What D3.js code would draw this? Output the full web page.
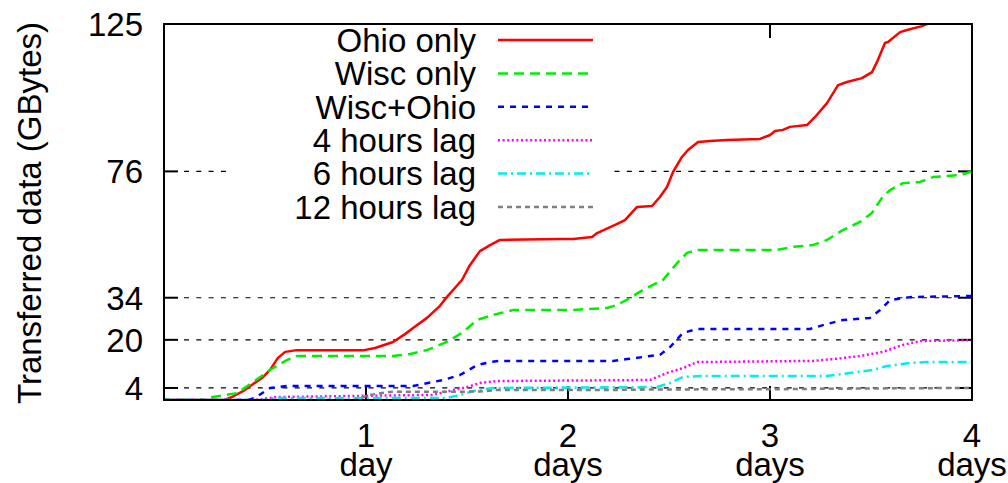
<!DOCTYPE html>
<html>
<head>
<meta charset="utf-8">
<script src="https://cdn.jsdelivr.net/npm/d3@7"></script>
<style>
  html, body { margin: 0; padding: 0; background: #fff; }
  svg { display: block; font-family: "Liberation Sans", Arial, Helvetica, sans-serif; }
</style>
</head>
<body>
<svg id="chart" width="1008" height="483"></svg>
<script>
// Cumulative transferred data (GBytes) over elapsed time (days)
const seriesNames = ["Ohio only", "Wisc only", "Wisc+Ohio", "4 hours lag", "6 hours lag", "12 hours lag"];

const ohioOnly = [
  [0, 0], [0.30, 0], [0.337, 1.0], [0.40, 3.3], [0.45, 5.7], [0.485, 7.3], [0.525, 10.0],
  [0.564, 14.0], [0.60, 16.0], [0.65, 16.5], [0.985, 16.5], [1.045, 17.3], [1.134, 19.3],
  [1.193, 21.9], [1.233, 23.9], [1.302, 27.3], [1.366, 31.3], [1.40, 34.2], [1.475, 39.9],
  [1.515, 44.9], [1.564, 49.5], [1.614, 51.5], [1.663, 53.2], [1.96, 53.5], [2.025, 53.5],
  [2.119, 54.2], [2.144, 55.5], [2.233, 58.2], [2.282, 59.8], [2.342, 64.2], [2.416, 64.5],
  [2.455, 67.5], [2.49, 70.8], [2.52, 75.8], [2.564, 80.8], [2.594, 83.1], [2.644, 85.8],
  [2.703, 86.1], [2.787, 86.4], [2.95, 86.8], [3.0, 88.1], [3.025, 89.4], [3.064, 89.8],
  [3.099, 90.8], [3.183, 91.4], [3.223, 94.1], [3.282, 98.7], [3.337, 104.7], [3.381, 105.7],
  [3.455, 107.0], [3.505, 109.0], [3.53, 112.4], [3.569, 118.7], [3.584, 119.0], [3.644, 122.3],
  [3.678, 123.0], [3.752, 124.3], [3.80, 125.6], [4.0, 128.5]
];

const wiscOnly = [
  [0, 0], [0.203, 0], [0.213, 0.7], [0.361, 2.3], [0.436, 5.7], [0.525, 10.0], [0.609, 13.3],
  [0.658, 14.6], [1.134, 14.6], [1.218, 15.3], [1.302, 16.6], [1.40, 19.3], [1.475, 22.3],
  [1.55, 26.6], [1.629, 28.3], [1.728, 29.9], [2.01, 29.9], [2.193, 30.6], [2.243, 31.6],
  [2.307, 33.9], [2.371, 36.6], [2.47, 39.9], [2.54, 45.5], [2.589, 48.9], [2.639, 49.9],
  [3.035, 49.9], [3.114, 50.9], [3.213, 51.5], [3.282, 53.2], [3.361, 56.5], [3.446, 59.2],
  [3.505, 62.2], [3.554, 67.2], [3.594, 69.8], [3.658, 72.1], [3.743, 72.5], [3.807, 74.1],
  [3.94, 74.8], [4.0, 76.0]
];

const wiscOhio = [
  [0, 0], [0.416, 0], [0.45, 0.7], [0.525, 4.0], [0.609, 4.65], [1.233, 4.65], [1.381, 6.65],
  [1.465, 8.3], [1.55, 11.6], [1.614, 12.6], [1.663, 13.0], [2.223, 13.0], [2.292, 13.6],
  [2.406, 14.6], [2.455, 15.0], [2.505, 17.6], [2.569, 22.3], [2.639, 23.6], [3.198, 23.6],
  [3.262, 24.9], [3.361, 26.6], [3.495, 27.3], [3.545, 29.9], [3.594, 33.2], [3.693, 34.2],
  [4.0, 34.6]
];

const lag4h = [
  [0, 0], [0.45, 0], [0.559, 1.0], [1.332, 1.7], [1.431, 3.3], [1.50, 4.3], [1.564, 5.65],
  [1.649, 6.3], [2.406, 6.65], [2.49, 9.0], [2.569, 10.6], [2.639, 12.6], [3.213, 13.0],
  [3.312, 13.6], [3.446, 14.6], [3.559, 16.0], [3.658, 18.3], [3.743, 19.6], [4.0, 19.9]
];

const lag6h = [
  [0, 0], [0.50, 0], [0.55, 0.7], [1.40, 0.7], [1.465, 1.7], [1.55, 3.3], [1.629, 4.0],
  [2.44, 4.3], [2.505, 5.65], [2.569, 7.6], [2.653, 8.0], [3.282, 8.0], [3.51, 10.0],
  [3.579, 11.3], [3.693, 12.3], [3.777, 12.6], [4.0, 12.6]
];

const lag12h = [
  [0, 0], [0.946, 0], [1.02, 1.7], [1.119, 2.7], [1.564, 2.8], [1.639, 3.3], [2.158, 3.3],
  [2.455, 3.5], [3.05, 3.6], [3.644, 3.9], [4.0, 4.0]
];

const xTicks = [1, 2, 3, 4];
const xTickLines = [["1", "day"], ["2", "days"], ["3", "days"], ["4", "days"]];
const yTicks = [4, 20, 34, 76, 125];
const yTitle = "Transferred data (GBytes)";

const seriesData = [ohioOnly, wiscOnly, wiscOhio, lag4h, lag6h, lag12h];
const seriesStyle = [
  { color: "#ff0000", dash: null },
  { color: "#00ee00", dash: "10,6" },
  { color: "#0000ff", dash: "6,6" },
  { color: "#ff00ff", dash: "2,2.6" },
  { color: "#00eeee", dash: "9,4,2,4" },
  { color: "#808080", dash: "5,4" }
];

const svg = d3.select("#chart");
const plotL = 164, plotR = 972, plotT = 24, plotB = 400;
const fontPx = 33;

const x = d3.scaleLinear().domain([0, 4]).range([plotL, plotR]);
const y = d3.scaleLinear().domain([0, 125]).range([plotB, plotT]);

svg.append("defs").append("clipPath").attr("id", "plotClip")
  .append("rect").attr("x", plotL).attr("y", plotT).attr("width", plotR - plotL).attr("height", plotB - plotT);

// horizontal dashed grid
const grid = svg.append("g");
yTicks.filter(v => v < 125).forEach(v => {
  grid.append("line")
    .attr("x1", plotL + 20).attr("x2", plotR - 12)
    .attr("y1", y(v)).attr("y2", y(v))
    .attr("stroke", "#000").attr("stroke-width", 1.2)
    .attr("stroke-dasharray", "5,7.3");
});

// tick marks (inward on all four sides)
const tickLen = 14;
const ticks = svg.append("g").attr("stroke", "#000").attr("stroke-width", 2);
yTicks.forEach(v => {
  ticks.append("line").attr("x1", plotL).attr("x2", plotL + tickLen).attr("y1", y(v)).attr("y2", y(v));
  ticks.append("line").attr("x1", plotR - tickLen).attr("x2", plotR).attr("y1", y(v)).attr("y2", y(v));
});
xTicks.forEach(v => {
  ticks.append("line").attr("x1", x(v)).attr("x2", x(v)).attr("y1", plotB).attr("y2", plotB - tickLen);
  ticks.append("line").attr("x1", x(v)).attr("x2", x(v)).attr("y1", plotT).attr("y2", plotT + tickLen);
});

// opaque key area
svg.append("rect")
  .attr("x", 228).attr("y", plotT).attr("width", 612 - 228).attr("height", 222 - plotT)
  .attr("fill", "#fff");

// data curves
const line = d3.line().x(d => x(d[0])).y(d => y(d[1]));
const curves = svg.append("g").attr("clip-path", "url(#plotClip)");
seriesData.forEach((data, i) => {
  const p = curves.append("path")
    .datum(data)
    .attr("d", line)
    .attr("fill", "none")
    .attr("stroke", seriesStyle[i].color)
    .attr("stroke-width", 2.5)
    .attr("stroke-linejoin", "round");
  if (seriesStyle[i].dash) p.attr("stroke-dasharray", seriesStyle[i].dash);
});

// plot border
svg.append("rect")
  .attr("x", plotL).attr("y", plotT).attr("width", plotR - plotL).attr("height", plotB - plotT)
  .attr("fill", "none").attr("stroke", "#000").attr("stroke-width", 2);

// y tick labels
svg.append("g").selectAll("text").data(yTicks).join("text")
  .attr("x", 143).attr("y", d => y(d) + 11.8)
  .attr("text-anchor", "end")
  .attr("font-size", fontPx)
  .text(d => d);

// x tick labels (two lines)
const xl = svg.append("g").selectAll("text").data(xTicks).join("text")
  .attr("text-anchor", "middle")
  .attr("font-size", fontPx);
xl.append("tspan").attr("x", d => x(d)).attr("y", 447).text((d, i) => xTickLines[i][0]);
xl.append("tspan").attr("x", d => x(d)).attr("y", 476).text((d, i) => xTickLines[i][1]);

// y axis title
svg.append("text")
  .attr("transform", `translate(41,${(plotT + plotB) / 2 + 1}) rotate(-90)`)
  .attr("text-anchor", "middle")
  .attr("font-size", fontPx)
  .text(yTitle);

// key
const keyRowY = [40, 73.4, 106.8, 140.2, 173.6, 207];
const key = svg.append("g");
seriesNames.forEach((name, i) => {
  key.append("text")
    .attr("x", 476).attr("y", keyRowY[i] + 11.8)
    .attr("text-anchor", "end")
    .attr("font-size", fontPx)
    .text(name);
  const s = key.append("line")
    .attr("x1", 498).attr("x2", 593)
    .attr("y1", keyRowY[i]).attr("y2", keyRowY[i])
    .attr("stroke", seriesStyle[i].color)
    .attr("stroke-width", 2.5);
  if (seriesStyle[i].dash) s.attr("stroke-dasharray", seriesStyle[i].dash);
});
</script>
</body>
</html>
